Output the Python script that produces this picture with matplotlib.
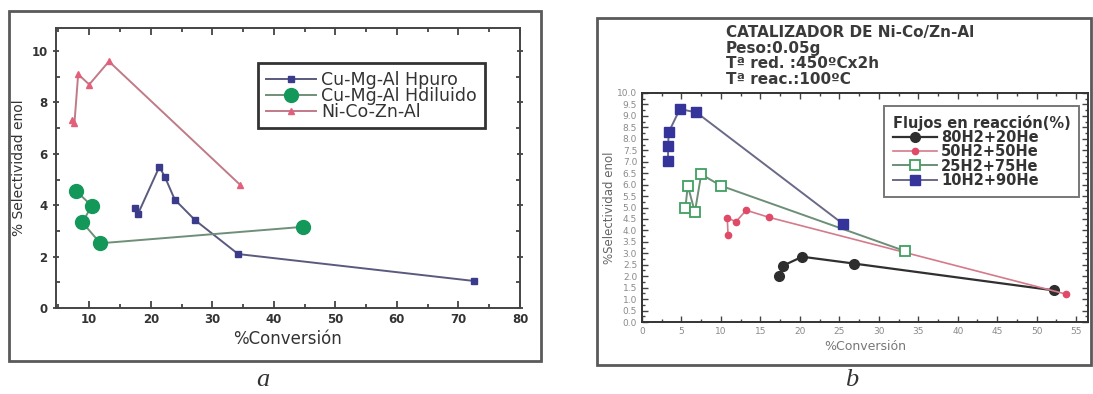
import matplotlib
matplotlib.use("Agg")
import matplotlib.pyplot as plt
from matplotlib.patches import Rectangle
from matplotlib.ticker import MultipleLocator, FormatStrFormatter

plt.rcParams['font.family'] = ['DejaVu Sans']

W, H = 1093, 394

# ---------------- panel a: three catalysts ----------------
hpuro_x = [17.5, 17.9, 21.4, 22.3, 23.9, 27.2, 34.2, 72.6]
hpuro_y = [3.9, 3.65, 5.5, 5.1, 4.22, 3.42, 2.1, 1.05]

hdil_x = [7.9, 10.4, 8.9, 11.8, 44.8]
hdil_y = [4.55, 3.98, 3.33, 2.52, 3.16]

nico_x = [7.2, 7.6, 8.2, 10.0, 13.2, 34.5]
nico_y = [7.3, 7.2, 9.1, 8.7, 9.6, 4.8]

labels_a = ["Cu-Mg-Al Hpuro", "Cu-Mg-Al Hdiluido", "Ni-Co-Zn-Al"]
xticks_a = [10, 20, 30, 40, 50, 60, 70, 80]
yticks_a = [0, 2, 4, 6, 8, 10]

# ---------------- panel b: Ni-Co/Zn-Al under different flows ----------------
f80_x = [17.4, 17.8, 20.3, 26.9, 52.2]
f80_y = [2.0, 2.45, 2.85, 2.55, 1.38]

f50_x = [10.9, 10.8, 11.9, 13.2, 16.1, 53.7]
f50_y = [3.8, 4.55, 4.38, 4.88, 4.57, 1.22]

f25_x = [5.5, 5.8, 6.7, 7.5, 10.0, 33.3]
f25_y = [5.0, 5.95, 4.8, 6.45, 5.95, 3.1]

f10_x = [3.3, 3.3, 3.4, 4.8, 6.9, 25.4]
f10_y = [7.05, 7.7, 8.3, 9.3, 9.15, 4.3]

labels_b = ["80H2+20He", "50H2+50He", "25H2+75He", "10H2+90He"]
legend_title_b = "Flujos en reacción(%)"
header_b = ["CATALIZADOR DE Ni-Co/Zn-Al", "Peso:0.05g",
            "Tª red. :450ºCx2h", "Tª reac.:100ºC"]


def fx(px):
    return px / W


def fy(py):
    return 1 - py / H


fig = plt.figure(figsize=(W / 100, H / 100), dpi=100)

# outer frames around each panel
for (x0, y0, x1, y1) in [(9, 11, 541, 361), (597, 18, 1091, 365)]:
    fig.add_artist(Rectangle((fx(x0), fy(y1)), fx(x1 - x0), (y1 - y0) / H,
                             transform=fig.transFigure, fill=False,
                             ec='#5a5a5a', lw=2.0))

# ---- panel a ----
axa = fig.add_axes([fx(56), fy(308), fx(520 - 56), (308 - 28) / H])
axa.plot(hpuro_x, hpuro_y, '-', color='#5a5a7e', lw=1.4, marker='s', ms=5,
         mfc='#3b3b8c', mec='#3b3b8c', label=labels_a[0])
axa.plot(hdil_x, hdil_y, '-', color='#6f8f78', lw=1.4, marker='o', ms=10,
         mfc='#14985a', mec='#14985a', label=labels_a[1])
axa.plot(nico_x, nico_y, '-', color='#c07a88', lw=1.4, marker='^', ms=5,
         mfc='#e2607a', mec='#e2607a', label=labels_a[2])
axa.set_xlim(4.6, 80)
axa.set_ylim(0, 10.9)
axa.set_xticks(xticks_a)
axa.set_yticks(yticks_a)
axa.xaxis.set_minor_locator(MultipleLocator(5))
axa.yaxis.set_minor_locator(MultipleLocator(1))
axa.tick_params(axis='both', which='both', direction='in', top=True,
                right=True, colors='#333333', labelsize=8.5, width=1.2)
axa.tick_params(axis='y', which='major', direction='inout')
axa.tick_params(which='major', length=5)
axa.tick_params(which='minor', length=3)
for lab in axa.get_xticklabels() + axa.get_yticklabels():
    lab.set_fontweight('bold')
for s in axa.spines.values():
    s.set_color('#444444')
    s.set_linewidth(1.4)
axa.set_xlabel("%Conversión", fontsize=12, color='#333333', labelpad=3)
axa.set_ylabel("% Selectividad enol", fontsize=10, color='#333333', labelpad=4)
lega = axa.legend(loc='upper left', bbox_to_anchor=(fx(258), fy(63)),
                  bbox_transform=fig.transFigure, borderaxespad=0,
                  fancybox=False, frameon=True, fontsize=12.5,
                  handlelength=2.9, handletextpad=0.3, labelspacing=-0.12,
                  borderpad=0.45, labelcolor='#333333')
lega.get_frame().set_edgecolor('black')
lega.get_frame().set_linewidth(2.0)

fig.text(fx(263), fy(380), "a", fontsize=19, style='italic',
         family='Liberation Serif', color='#333333', ha='center', va='center')

# ---- panel b ----
axb = fig.add_axes([fx(642), fy(322), fx(1088 - 642), (322 - 93) / H])
axb.plot(f80_x, f80_y, '-', color='#303030', lw=1.6, marker='o', ms=7,
         mfc='#2e2e2e', mec='#2e2e2e', label=labels_b[0])
axb.plot(f50_x, f50_y, '-', color='#d47a8a', lw=1.2, marker='o', ms=4.5,
         mfc='#e04a66', mec='#e04a66', label=labels_b[1])
axb.plot(f25_x, f25_y, '-', color='#6c8f78', lw=1.4, marker='s', ms=7,
         mfc='white', mec='#3fa060', mew=1.3, label=labels_b[2])
axb.plot(f10_x, f10_y, '-', color='#6a6a88', lw=1.4, marker='s', ms=6.5,
         mfc='#34349a', mec='#34349a', label=labels_b[3])
axb.set_xlim(0, 56.5)
axb.set_ylim(0, 10)
axb.xaxis.set_major_locator(MultipleLocator(5))
axb.xaxis.set_minor_locator(MultipleLocator(2.5))
axb.yaxis.set_major_locator(MultipleLocator(0.5))
axb.yaxis.set_minor_locator(MultipleLocator(0.25))
axb.yaxis.set_major_formatter(FormatStrFormatter('%.1f'))
axb.tick_params(axis='both', which='both', direction='in', top=True,
                right=True, colors='#444444', labelsize=6.5, width=1.0)
axb.tick_params(which='major', length=4)
axb.tick_params(which='minor', length=2.5)
for lab in axb.get_xticklabels() + axb.get_yticklabels():
    lab.set_color('#8a8a8a')
for s in axb.spines.values():
    s.set_color('#333333')
    s.set_linewidth(1.4)
axb.set_xlabel("%Conversión", fontsize=9, color='#777777', labelpad=3)
axb.set_ylabel("%Selectividad enol", fontsize=8.5, color='#666666', labelpad=1)

legb = axb.legend(loc='upper left', bbox_to_anchor=(fx(884), fy(106)),
                  bbox_transform=fig.transFigure, borderaxespad=0,
                  fancybox=False, frameon=True,
                  prop={'size': 10.5, 'weight': 'bold'},
                  title=legend_title_b,
                  title_fontproperties={'size': 10.5, 'weight': 'bold'},
                  handlelength=3.0, handletextpad=0.3, labelspacing=-0.05,
                  borderpad=0.6, labelcolor='#333333', alignment='left')
legb.get_frame().set_edgecolor('#555555')
legb.get_frame().set_linewidth(1.4)
legb.get_title().set_color('#333333')

for i, line in enumerate(header_b):
    fig.text(fx(726), fy(32 + 16 * i), line, fontsize=11, fontweight='bold',
             color='#3a3a3a', ha='left', va='center')

fig.text(fx(852), fy(380), "b", fontsize=19, style='italic',
         family='Liberation Serif', color='#333333', ha='center', va='center')

fig.savefig("out.png", dpi=100)
